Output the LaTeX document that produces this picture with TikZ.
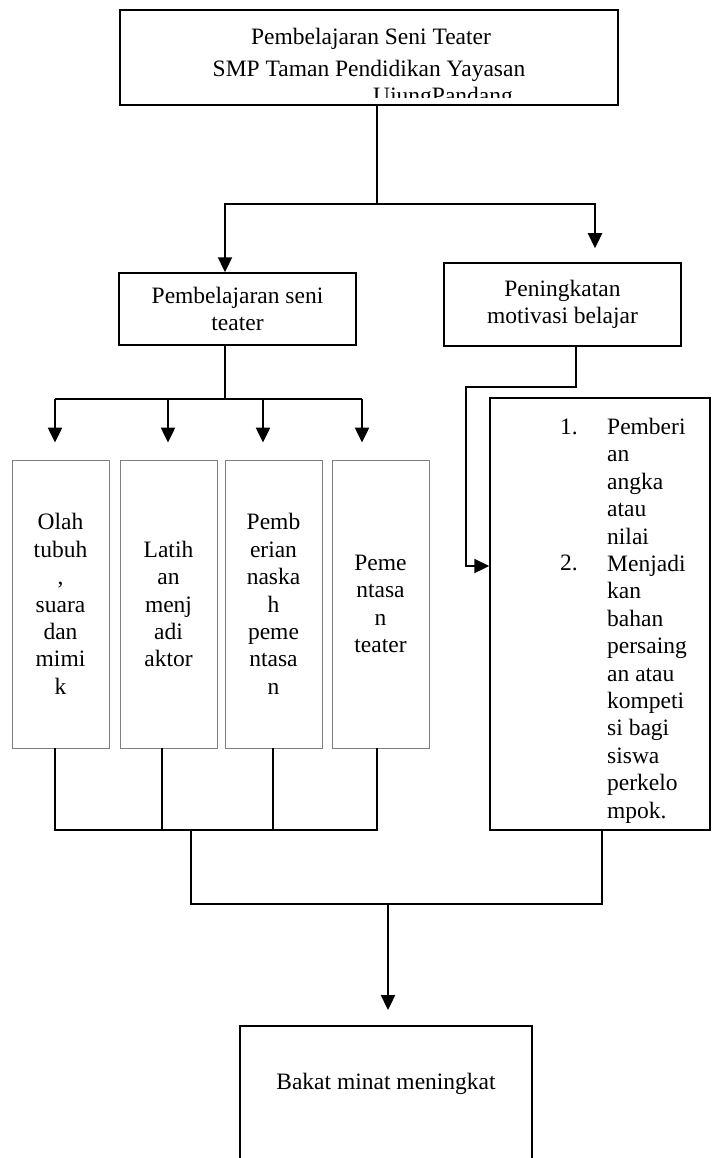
\documentclass[tikz,border=0pt]{standalone}
\usepackage{fontspec}
\setmainfont{Liberation Serif}
\usetikzlibrary{arrows.meta}

\begin{document}
\begin{tikzpicture}[x=1pt,y=-1pt,
every node/.style={inner sep=0pt,font=\fontsize{23.5}{27.4}\selectfont},
kotak/.style={draw,line width=1.5pt,fill=white,align=center},
kotakabu/.style={draw=gray,line width=0.9pt,align=center,minimum width=97pt,minimum height=288pt},
garis/.style={line width=2.3pt},
panah/.style={garis,-{Triangle[length=15pt,width=14pt]}}]
\useasboundingbox (0,0) rectangle (719,1158);

\node[kotak,minimum width=498pt,minimum height=95pt] (judul) at (369,57.5) {};
\node[anchor=base] (judul1) at (371,45) {Pembelajaran Seni Teater};
\node[anchor=base] (judul2) at (369,77) {SMP Taman Pendidikan Yayasan};
\begin{scope}
\clip (121,11) rectangle (617,98);
\node[anchor=base west] (judul3) at (373,104) {UjungPandang};
\end{scope}

\node[kotak,minimum width=237pt,minimum height=72pt] (seni) at (237.5,309) {Pembelajaran seni\\teater};
\node[kotak,minimum width=237pt,minimum height=83pt] (motivasi) at (562.5,304.5) {Peningkatan\\motivasi belajar};

\node[kotakabu] (olah) at (60.5,604) {Olah\\tubuh\\,\\suara\\dan\\mimi\\k};
\node[kotakabu] (latihan) at (168.5,604) {Latih\\an\\menj\\adi\\aktor};
\node[kotakabu] (naskah) at (273.5,604) {Pemb\\erian\\naska\\h\\peme\\ntasa\\n};
\node[kotakabu] (pentas) at (380.5,604) {Peme\\ntasa\\n\\teater};

\node[kotak,minimum width=220pt,minimum height=432pt] (daftar) at (600,614) {};
\node[anchor=base west] (no1) at (560,434) {1.};
\node[anchor=base west] (no2) at (560,570.5) {2.};
\node[anchor=north west,align=left] (daftarteks) at (607,418) {Pemberi\\an\\angka\\atau\\nilai\\Menjadi\\kan\\bahan\\persaing\\an atau\\kompeti\\si bagi\\siswa\\perkelo\\mpok.};

\node[kotak,minimum width=292pt,minimum height=160pt,anchor=north] (bakat) at (386,1025) {};
\node[anchor=base] (bakatteks) at (386,1089) {Bakat minat meningkat};

% cabang dari judul
\coordinate (cabang) at (377,204);
\coordinate (cabangkiri) at (225,204);
\coordinate (cabangkanan) at (595,204);
\draw[garis] (judul.south -| cabang) -- (cabang);
\draw[panah] (cabang) -- (cabangkiri) -- (cabangkiri |- seni.north);
\draw[panah,shorten >=14pt] (cabang) -- (cabangkanan) -- (cabangkanan |- motivasi.north);

% ke empat kegiatan
\coordinate (p0) at (225,399);
\coordinate (p1) at (55,399);
\coordinate (p2) at (168,399);
\coordinate (p3) at (263,399);
\coordinate (p4) at (362,399);
\draw[garis] (seni.south -| p0) -- (p0);
\draw[garis] (p1) -- (p4);
\draw[panah,shorten >=17pt] (p1) -- (p1 |- olah.north);
\draw[panah,shorten >=17pt] (p2) -- (p2 |- latihan.north);
\draw[panah,shorten >=17pt] (p3) -- (p3 |- naskah.north);
\draw[panah,shorten >=17pt] (p4) -- (p4 |- pentas.north);

% motivasi ke daftar
\coordinate (m1) at (576,387);
\coordinate (m2) at (466,387);
\coordinate (m3) at (466,566);
\draw[panah] (motivasi.south -| m1) -- (m1) -- (m2) -- (m3) -- (daftar.west |- m3);

% gabung ke bawah
\coordinate (b1) at (55,830);
\coordinate (b2) at (162,830);
\coordinate (b3) at (273,830);
\coordinate (b4) at (377,830);
\draw[garis] (olah.south -| b1) -- (b1) -- (b4) -- (b4 |- pentas.south);
\draw[garis] (latihan.south -| b2) -- (b2);
\draw[garis] (naskah.south -| b3) -- (b3);
\coordinate (r1) at (191,904);
\coordinate (r2) at (602,904);
\coordinate (r3) at (388,904);
\draw[garis] (r1 |- b1) -- (r1) -- (r2) -- (r2 |- daftar.south);
\draw[panah,shorten >=15pt] (r3) -- (r3 |- bakat.north);
\end{tikzpicture}
\end{document}
